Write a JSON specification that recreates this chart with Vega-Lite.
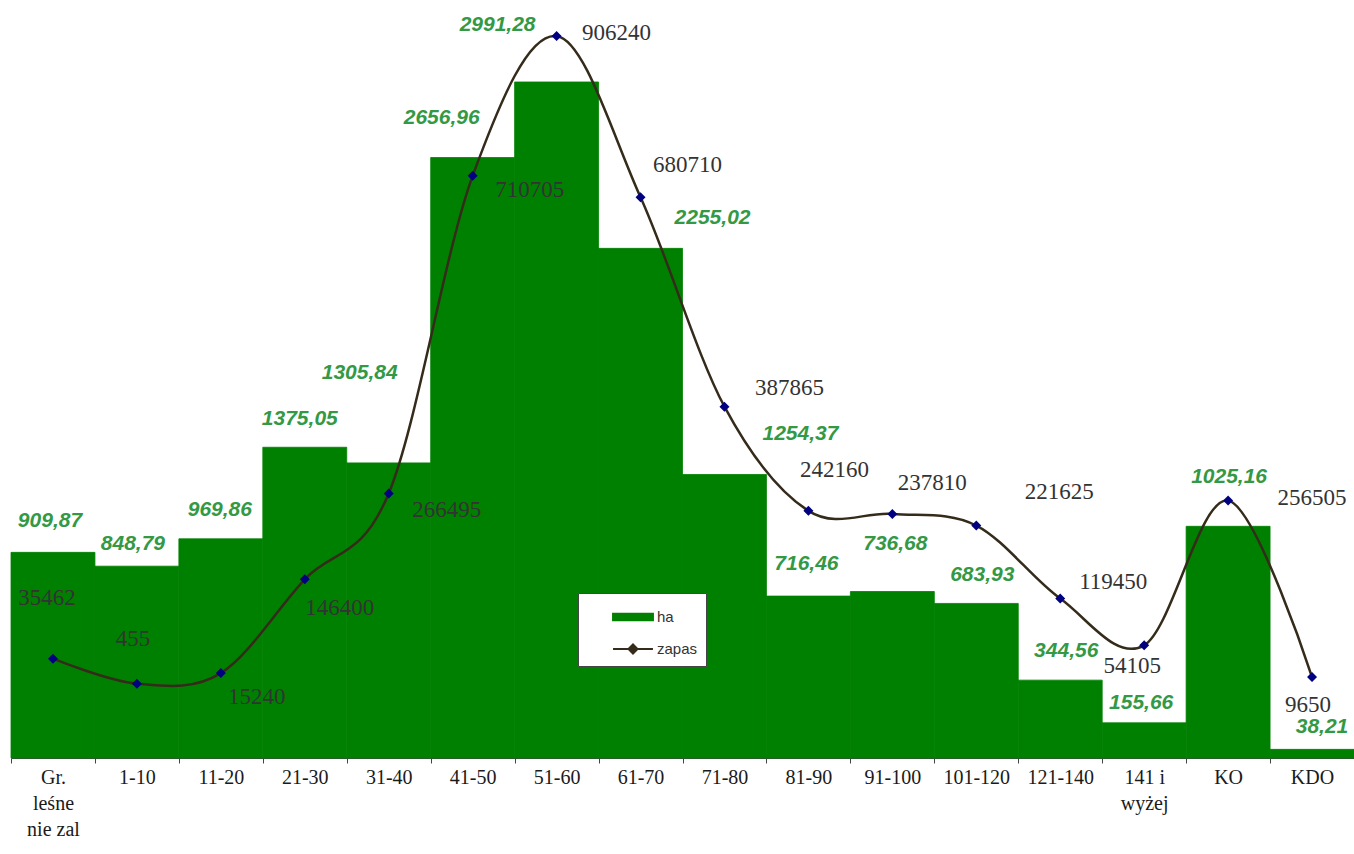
{
  "$schema": "https://vega.github.io/schema/vega-lite/v6.json",
  "width": 1343,
  "height": 758,
  "autosize": {"type": "none"},
  "padding": {"left": 11, "top": 0, "right": 0, "bottom": 96},
  "background": "white",
  "config": {
    "view": {"stroke": null},
    "locale": {"number": {"decimal": ",", "thousands": " ", "grouping": [3], "currency": ["", ""]}},
    "style": {
      "haLab": {"font": "Liberation Sans", "fontSize": 21, "fontStyle": "italic", "fontWeight": "bold", "align": "center", "baseline": "middle"},
      "zLab": {"font": "Liberation Serif", "fontSize": 23, "align": "center", "baseline": "middle"}
    }
  },
  "data": {"values": [
    {"k": "Gr. leśne nie zal", "ha": 909.87, "zapas": 35462},
    {"k": "1-10", "ha": 848.79, "zapas": 455},
    {"k": "11-20", "ha": 969.86, "zapas": 15240},
    {"k": "21-30", "ha": 1375.05, "zapas": 146400},
    {"k": "31-40", "ha": 1305.84, "zapas": 266495},
    {"k": "41-50", "ha": 2656.96, "zapas": 710705},
    {"k": "51-60", "ha": 2991.28, "zapas": 906240},
    {"k": "61-70", "ha": 2255.02, "zapas": 680710},
    {"k": "71-80", "ha": 1254.37, "zapas": 387865},
    {"k": "81-90", "ha": 716.46, "zapas": 242160},
    {"k": "91-100", "ha": 736.68, "zapas": 237810},
    {"k": "101-120", "ha": 683.93, "zapas": 221625},
    {"k": "121-140", "ha": 344.56, "zapas": 119450},
    {"k": "141 i wyżej", "ha": 155.66, "zapas": 54105},
    {"k": "KO", "ha": 1025.16, "zapas": 256505},
    {"k": "KDO", "ha": 38.21, "zapas": 9650}
  ]},
  "encoding": {
    "x": {
      "field": "k", "type": "nominal", "sort": null,
      "scale": {"paddingInner": 0, "paddingOuter": 0},
      "axis": {
        "title": null, "domainColor": "#444444", "tickColor": "#444444", "tickSize": 5, "tickBand": "extent",
        "labelFont": "Liberation Serif", "labelFontSize": 20, "labelColor": "#1a1a1a", "labelPadding": 4,
        "labelLineHeight": 26, "labelAngle": 0, "labelOverlap": false, "labelBaseline": "top",
        "labelExpr": "datum.label == 'Gr. leśne nie zal' ? ['Gr.', 'leśne', 'nie zal'] : datum.label == '141 i wyżej' ? ['141 i', 'wyżej'] : datum.label"
      }
    }
  },
  "layer": [
    {
      "encoding": {"y": {"field": "ha", "type": "quantitative", "scale": {"domain": [0, 3354], "nice": false, "zero": false}, "axis": null}},
      "layer": [
        {
          "mark": {"type": "bar", "stroke": "#008000", "strokeWidth": 0.8},
          "encoding": {
            "color": {
              "datum": "ha",
              "scale": {"domain": ["ha", "zapas"], "range": ["#008000", "#352b1b"]},
              "legend": {
                "title": null, "orient": "none", "legendX": 567, "legendY": 593,
                "fillColor": "white", "strokeColor": "#444444", "padding": 8,
                "labelFont": "Liberation Sans", "labelFontSize": 15, "labelColor": "#333333", "labelLimit": 300,
                "labelExpr": "datum.label + '\u00a0\u00a0\u00a0\u00a0\u00a0\u00a0\u00a0\u00a0\u00a0\u00a0\u00a0\u00a0\u00a0\u00a0\u00a0\u00a0\u00a0\u00a0\u00a0'",
                "symbolSize": 900, "symbolOffset": 31, "labelOffset": 8, "rowPadding": 8,
                "symbolType": {"expr": "datum.value == 'ha' ? 'M-1.33,-0.22L1.33,-0.22L1.33,0.22L-1.33,0.22Z' : 'M-1.33,0L1.33,0M-0.3,0L0,-0.3L0.3,0L0,0.3Z'"},
                "symbolFillColor": {"expr": "datum.value == 'ha' ? '#008000' : '#000080'"},
                "symbolStrokeColor": {"expr": "datum.value == 'ha' ? '#008000' : '#222222'"},
                "symbolStrokeWidth": 2,
                "symbolOpacity": 1
              }
            }
          }
        },
        {
          "encoding": {
            "text": {"field": "ha", "type": "quantitative", "format": ".2f"},
            "color": {"value": "#339944"}
          },
          "layer": [
            {"transform": [{"filter": "datum.k == 'Gr. leśne nie zal'"}], "mark": {"type": "text", "style": "haLab", "dx": -3, "dy": -31}},
            {"transform": [{"filter": "datum.k == '1-10'"}], "mark": {"type": "text", "style": "haLab", "dx": -4, "dy": -22}},
            {"transform": [{"filter": "datum.k == '11-20'"}], "mark": {"type": "text", "style": "haLab", "dx": -1, "dy": -29}},
            {"transform": [{"filter": "datum.k == '21-30'"}], "mark": {"type": "text", "style": "haLab", "dx": -5, "dy": -28}},
            {"transform": [{"filter": "datum.k == '31-40'"}], "mark": {"type": "text", "style": "haLab", "dx": -29, "dy": -90}},
            {"transform": [{"filter": "datum.k == '41-50'"}], "mark": {"type": "text", "style": "haLab", "dx": -31, "dy": -40}},
            {"transform": [{"filter": "datum.k == '51-60'"}], "mark": {"type": "text", "style": "haLab", "dx": -59, "dy": -57}},
            {"transform": [{"filter": "datum.k == '61-70'"}], "mark": {"type": "text", "style": "haLab", "dx": 72, "dy": -30}},
            {"transform": [{"filter": "datum.k == '71-80'"}], "mark": {"type": "text", "style": "haLab", "dx": 76, "dy": -41}},
            {"transform": [{"filter": "datum.k == '81-90'"}], "mark": {"type": "text", "style": "haLab", "dx": -2, "dy": -32}},
            {"transform": [{"filter": "datum.k == '91-100'"}], "mark": {"type": "text", "style": "haLab", "dx": 3, "dy": -48}},
            {"transform": [{"filter": "datum.k == '101-120'"}], "mark": {"type": "text", "style": "haLab", "dx": 6, "dy": -28}},
            {"transform": [{"filter": "datum.k == '121-140'"}], "mark": {"type": "text", "style": "haLab", "dx": 6, "dy": -29}},
            {"transform": [{"filter": "datum.k == '141 i wyżej'"}], "mark": {"type": "text", "style": "haLab", "dx": -3, "dy": -20}},
            {"transform": [{"filter": "datum.k == 'KO'"}], "mark": {"type": "text", "style": "haLab", "dx": 1, "dy": -49}},
            {"transform": [{"filter": "datum.k == 'KDO'"}], "mark": {"type": "text", "style": "haLab", "dx": 10, "dy": -22}}
          ]
        }
      ]
    },
    {
      "encoding": {"y": {"field": "zapas", "type": "quantitative", "scale": {"domain": [-103500, 956600], "nice": false, "zero": false}, "axis": null}},
      "layer": [
        {
          "mark": {"type": "line", "interpolate": "cardinal", "tension": 0, "strokeWidth": 2.5},
          "encoding": {"color": {"datum": "zapas"}}
        },
        {
          "mark": {"type": "point", "shape": "diamond", "size": 100, "filled": true, "fill": "#000080", "stroke": null, "opacity": 1},
          "encoding": {}
        },
        {
          "encoding": {
            "text": {"field": "zapas", "type": "quantitative", "format": "d"},
            "color": {"value": "#333333"}
          },
          "layer": [
            {"transform": [{"filter": "datum.k == 'Gr. leśne nie zal'"}], "mark": {"type": "text", "style": "zLab", "dx": -6, "dy": -61}},
            {"transform": [{"filter": "datum.k == '1-10'"}], "mark": {"type": "text", "style": "zLab", "dx": -4, "dy": -45}},
            {"transform": [{"filter": "datum.k == '11-20'"}], "mark": {"type": "text", "style": "zLab", "dx": 36, "dy": 24}},
            {"transform": [{"filter": "datum.k == '21-30'"}], "mark": {"type": "text", "style": "zLab", "dx": 35, "dy": 29}},
            {"transform": [{"filter": "datum.k == '31-40'"}], "mark": {"type": "text", "style": "zLab", "dx": 58, "dy": 17}},
            {"transform": [{"filter": "datum.k == '41-50'"}], "mark": {"type": "text", "style": "zLab", "dx": 57, "dy": 14}},
            {"transform": [{"filter": "datum.k == '51-60'"}], "mark": {"type": "text", "style": "zLab", "dx": 60, "dy": -3}},
            {"transform": [{"filter": "datum.k == '61-70'"}], "mark": {"type": "text", "style": "zLab", "dx": 47, "dy": -32}},
            {"transform": [{"filter": "datum.k == '71-80'"}], "mark": {"type": "text", "style": "zLab", "dx": 65, "dy": -19}},
            {"transform": [{"filter": "datum.k == '81-90'"}], "mark": {"type": "text", "style": "zLab", "dx": 26, "dy": -41}},
            {"transform": [{"filter": "datum.k == '91-100'"}], "mark": {"type": "text", "style": "zLab", "dx": 40, "dy": -31}},
            {"transform": [{"filter": "datum.k == '101-120'"}], "mark": {"type": "text", "style": "zLab", "dx": 83, "dy": -34}},
            {"transform": [{"filter": "datum.k == '121-140'"}], "mark": {"type": "text", "style": "zLab", "dx": 53, "dy": -17}},
            {"transform": [{"filter": "datum.k == '141 i wyżej'"}], "mark": {"type": "text", "style": "zLab", "dx": -12, "dy": 21}},
            {"transform": [{"filter": "datum.k == 'KO'"}], "mark": {"type": "text", "style": "zLab", "dx": 84, "dy": -3}},
            {"transform": [{"filter": "datum.k == 'KDO'"}], "mark": {"type": "text", "style": "zLab", "dx": -4, "dy": 28}}
          ]
        }
      ]
    }
  ],
  "resolve": {"scale": {"y": "independent"}}
}
